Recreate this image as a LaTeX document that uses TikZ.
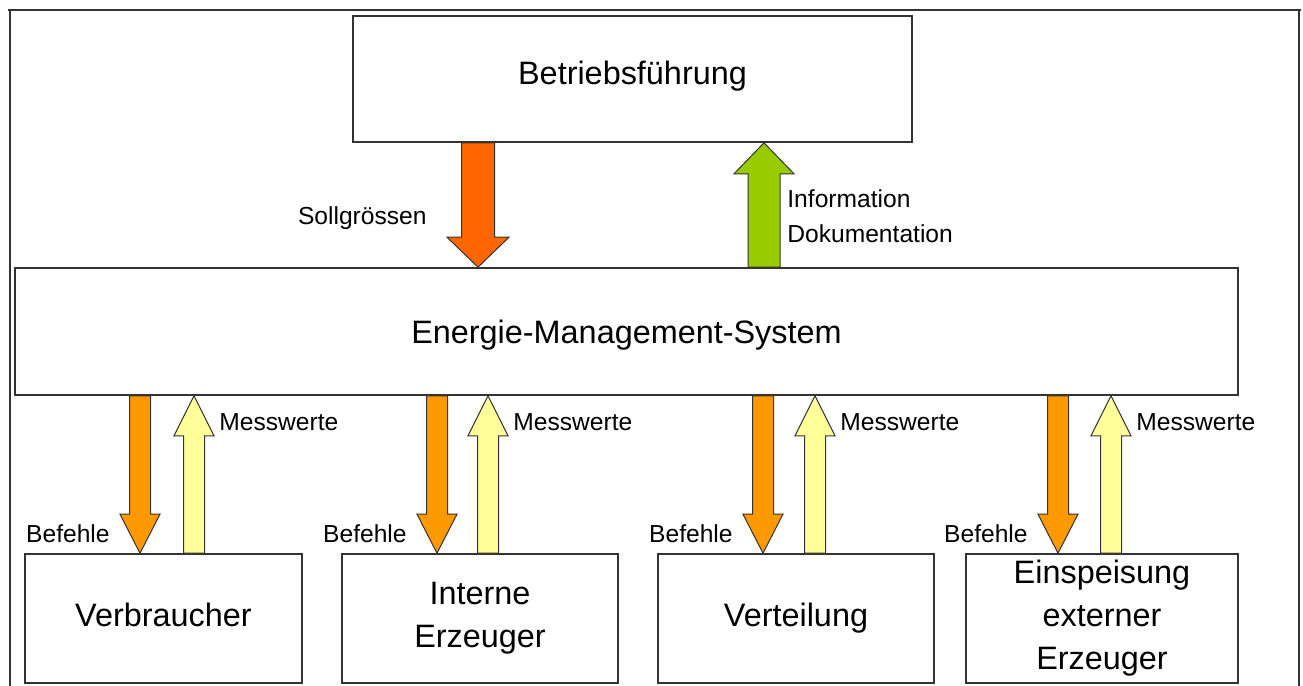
\documentclass[tikz,border=0pt]{standalone}
\usepackage{fontspec}
\setmainfont{Liberation Sans}
\usetikzlibrary{calc}

\definecolor{sollred}{HTML}{FF6600}
\definecolor{infogreen}{HTML}{99CC00}
\definecolor{cmdorange}{HTML}{FF9900}
\definecolor{measyellow}{HTML}{FFFF99}
\definecolor{frameline}{HTML}{333333}

\tikzset{
  box/.style={draw=frameline, line width=0.8pt, inner sep=0pt, align=center,
    font=\fontsize{16.2}{21.5}\selectfont},
  lbl/.style={inner sep=0pt, font=\fontsize{12.3}{17.5}\selectfont},
  barrow/.style={draw=frameline, line width=0.5pt, line join=miter},
}

% block arrow: fill, half shaft, half head, head length (signed), tail, tip
\newcommand{\blockarrow}[6]{%
  \path[barrow, fill=#1] let \p1=(#5), \p2=(#6) in
    (\x2-#2,\y1) -- (\x2-#2,{\y2+(#4)}) -- (\x2-#3,{\y2+(#4)}) -- (\x2,\y2)
    -- (\x2+#3,{\y2+(#4)}) -- (\x2+#2,{\y2+(#4)}) -- (\x2+#2,\y1) -- cycle;
}

\begin{document}
\begin{tikzpicture}[x=0.5pt, y=-0.5pt]
  \useasboundingbox (0,0) rectangle (1303,686);
  % Frame
  \draw[frameline, line width=1pt] (10,686) -- (10,9.5) (8,9.5) -- (1301,9.5) (1299,9.5) -- (1299,686);
  % Boxes
  \node[box, minimum width=279.5pt, minimum height=63pt, text depth=6.5pt] (betr) at (632.5,79) {Betriebsführung};
  \node[box, minimum width=611.5pt, minimum height=63.5pt, text height=15pt] (ems) at (626.5,331.5) {Energie-Management-System};
  \node[box, minimum width=138.5pt, minimum height=64.5pt, text depth=4pt] (verb) at (163.5,618.5) {Verbraucher};
  \node[box, minimum width=138pt, minimum height=64.5pt] (intern) at (480,618.5) {Interne\\Erzeuger};
  \node[box, minimum width=138pt, minimum height=64.5pt] (vert) at (796,618.5) {Verteilung};
  \node[box, minimum width=136pt, minimum height=64.5pt] (einsp) at (1102,618.5) {Einspeisung\\externer\\Erzeuger};
  % Top arrows
  \coordinate (sx) at (478,0);
  \coordinate (ix) at (764,0);
  \blockarrow{sollred}{8.25pt}{15.5pt}{15pt}{sx |- betr.south}{sx |- ems.north}
  \blockarrow{infogreen}{8pt}{15pt}{-15.5pt}{ix |- ems.north}{ix |- betr.south}
  \node[lbl, anchor=east] (soll) at (427,218) {Sollgrössen};
  \node[lbl, anchor=west, align=left] (info) at (787,216) {Information\\Dokumentation};
  % Bottom arrows
  \foreach \nm/\ox/\yx in {verb/140/194, intern/437/488, vert/763/815, einsp/1058/1111}{
    \coordinate (o-\nm) at (\ox,0);
    \coordinate (y-\nm) at (\yx,0);
    \blockarrow{cmdorange}{5.25pt}{10pt}{19.5pt}{o-\nm |- ems.south}{o-\nm |- \nm.north}
    \blockarrow{measyellow}{5.25pt}{10pt}{-20pt}{y-\nm |- \nm.north}{y-\nm |- ems.south}
    \node[lbl, anchor=east] (bef-\nm) at ($(o-\nm |- \nm.north)+(-30,-19)$) {Befehle};
    \node[lbl, anchor=west] (mess-\nm) at ($(y-\nm |- ems.south)+(25,26)$) {Messwerte};
  }
\end{tikzpicture}
\end{document}
